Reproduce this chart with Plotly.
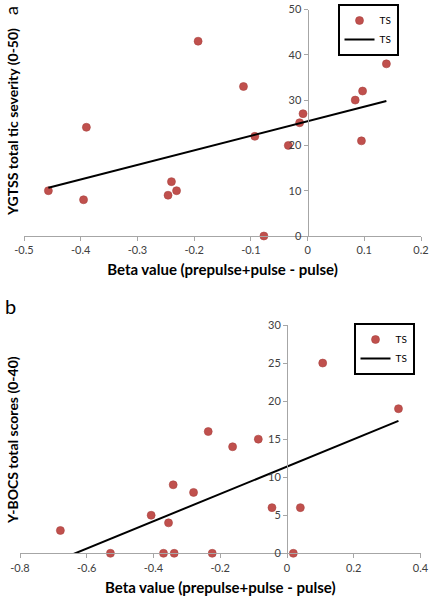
import numpy as np
import plotly.graph_objects as go

# ---- Data ----
a_beta = [-0.457, -0.395, -0.390, -0.246, -0.240, -0.231, -0.193, -0.113, -0.093,
          -0.077, -0.034, -0.014, -0.008, 0.084, 0.095, 0.097, 0.139]
a_ygtss = [10, 8, 24, 9, 12, 10, 43, 33, 22, 0, 20, 25, 27, 30, 21, 32, 38]

b_beta = [-0.679, -0.529, -0.407, -0.370, -0.355, -0.341, -0.338, -0.280, -0.236,
          -0.224, -0.163, -0.086, -0.045, 0.019, 0.040, 0.107, 0.334]
b_ybocs = [3, 0, 5, 0, 4, 9, 0, 8, 16, 0, 14, 15, 6, 0, 6, 25, 19]

a_xticks = [-0.5, -0.4, -0.3, -0.2, -0.1, 0, 0.1, 0.2]
a_yticks = [0, 10, 20, 30, 40, 50]
b_xticks = [-0.8, -0.6, -0.4, -0.2, 0, 0.2, 0.4]
b_yticks = [0, 5, 10, 15, 20, 25, 30]

x_title = "Beta value (prepulse+pulse - pulse)"
a_ytitle = "YGTSS total tic severity (0-50)"
b_ytitle = "Y-BOCS total scores (0-40)"
series_name = "TS"

# ---- Style / geometry ----
W, H = 433, 601
FONT = "Lato"
RED = "#c0504d"
AXIS = "#a6a6a6"
TICKC = "#404040"

def px(x):
    return x / W

def py(y):
    return 1 - y / H

def trend(x, y):
    k, c = np.polyfit(x, y, 1)
    xs = np.array([min(x), max(x)])
    return xs, k * xs + c

fig = go.Figure()

ax_range = [-0.5, 0.2]
bx_range = [-0.8, 0.4]

a_dom_x = [px(24), px(421)]
a_dom_y = [py(236), py(9.5)]
b_dom_x = [px(20), px(420.5)]
b_dom_y = [py(553.3), py(325)]

def zero_pos(dom, rng):
    return dom[0] + (0 - rng[0]) / (rng[1] - rng[0]) * (dom[1] - dom[0])

marker = dict(color=RED, size=8, line=dict(width=0.6, color="#a9433f"))

# Panel a
fig.add_trace(go.Scatter(x=a_beta, y=a_ygtss, mode="markers", name=series_name,
                         marker=marker, cliponaxis=False, xaxis="x", yaxis="y",
                         legend="legend"))
tx, ty = trend(a_beta, a_ygtss)
fig.add_trace(go.Scatter(x=tx, y=ty, mode="lines", name=series_name,
                         line=dict(color="black", width=2), xaxis="x", yaxis="y",
                         legend="legend"))

# Panel b
fig.add_trace(go.Scatter(x=b_beta, y=b_ybocs, mode="markers", name=series_name,
                         marker=marker, cliponaxis=False, xaxis="x2", yaxis="y2",
                         legend="legend2"))
tx, ty = trend(b_beta, b_ybocs)
fig.add_trace(go.Scatter(x=tx, y=ty, mode="lines", name=series_name,
                         line=dict(color="black", width=2), xaxis="x2", yaxis="y2",
                         legend="legend2"))

tickfont = dict(family=FONT, size=11, color=TICKC)
titlefont = dict(family=FONT, size=15, color="black", weight="bold")
ytitlefont = dict(family=FONT, size=14, color="black", weight="bold")

def xaxis(dom, rng, ticks, anchor):
    return dict(domain=dom, range=rng, tickvals=ticks, ticktext=[f"{t:g}" for t in ticks],
                showline=True, linecolor=AXIS, linewidth=1, ticks="outside", ticklen=4,
                tickcolor=AXIS, showgrid=False, zeroline=False, tickfont=tickfont,
                anchor=anchor, automargin=False,
                title=dict(text=x_title, font=titlefont, standoff=9))

def yaxis(dom, rng, ticks, pos):
    return dict(domain=dom, range=rng, tickvals=ticks, showline=True, linecolor=AXIS,
                linewidth=1, ticks="outside", ticklen=4, tickcolor=AXIS, showgrid=False,
                zeroline=False, tickfont=tickfont, anchor="free", position=pos,
                automargin=False)

legend_common = dict(bordercolor="black", borderwidth=2, bgcolor="white",
                     font=dict(family=FONT, size=10, color="black"),
                     itemwidth=30, tracegroupgap=0, xanchor="center")

fig.update_layout(
    width=W, height=H,
    margin=dict(l=0, r=0, t=0, b=0),
    paper_bgcolor="white", plot_bgcolor="white",
    font=dict(family=FONT),
    xaxis=xaxis(a_dom_x, ax_range, a_xticks, "y"),
    yaxis=yaxis(a_dom_y, [0, 50], a_yticks, zero_pos(a_dom_x, ax_range)),
    xaxis2=xaxis(b_dom_x, bx_range, b_xticks, "y2"),
    yaxis2=yaxis(b_dom_y, [0, 30], b_yticks, zero_pos(b_dom_x, bx_range)),
    legend=dict(x=px(368), y=py(4), yanchor="top", **legend_common),
    legend2=dict(x=px(384), y=py(349), yanchor="middle", **legend_common),
    showlegend=True,
)

# y-axis titles on the far left, panel labels
ann = dict(xref="paper", yref="paper", showarrow=False, xanchor="center", yanchor="middle")
fig.add_annotation(text=a_ytitle, textangle=-90, x=px(12), y=py(122), font=ytitlefont, **ann)
fig.add_annotation(text=b_ytitle, textangle=-90, x=px(12), y=py(440), font=ytitlefont, **ann)
fig.add_annotation(text="a", textangle=-90, x=px(11), y=py(11),
                   font=dict(family=FONT, size=18, color="black"), **ann)
fig.add_annotation(text="b", x=px(10), y=py(306),
                   font=dict(family=FONT, size=20, color="black"), **ann)

fig.write_html("out.html",
               config={"displayModeBar": False},
               post_script="document.body.style.margin='0';document.body.style.overflow='hidden';")
